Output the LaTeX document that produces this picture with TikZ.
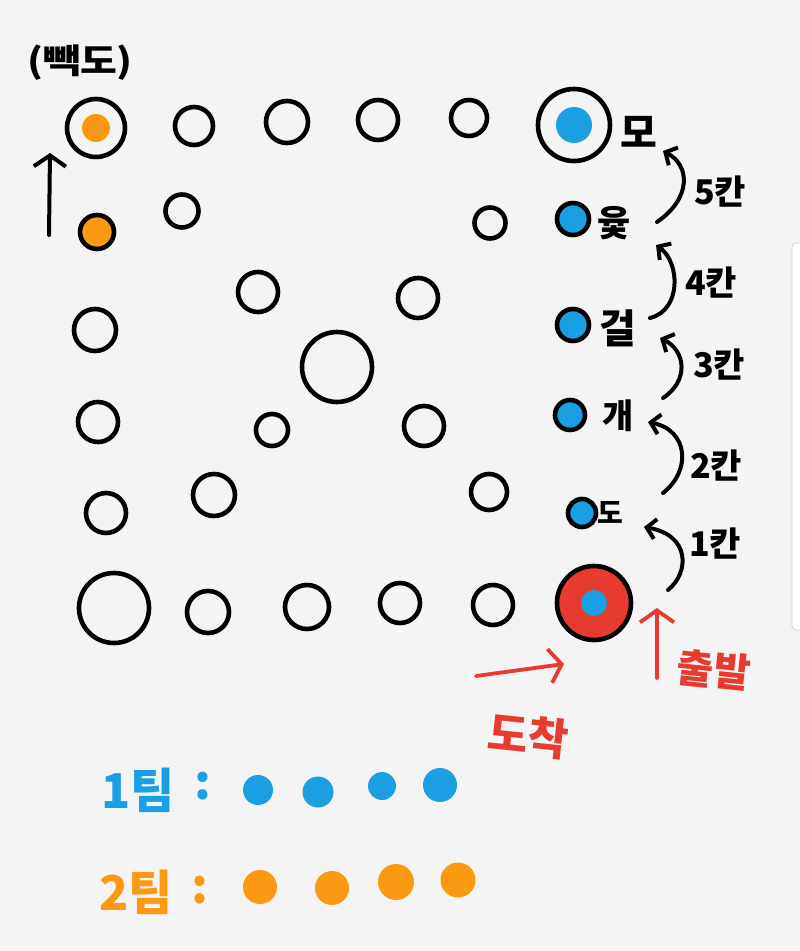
\documentclass[tikz,border=0pt]{standalone}
\usepackage{fontspec}
\setmainfont{Noto Sans CJK KR}
\usetikzlibrary{arrows.meta}
\definecolor{bg}{HTML}{F4F4F4}
\definecolor{tblue}{HTML}{1A9FE3}
\definecolor{torange}{HTML}{FB9A12}
\definecolor{tred}{HTML}{E63B2E}
\begin{document}
\begin{tikzpicture}[x=1pt,y=-1pt,
  spot/.style={circle, draw=black, line width=4.6pt, inner sep=0pt, minimum size=#1},
  bfill/.style={circle, fill=tblue, inner sep=0pt, minimum size=#1},
  ofill/.style={circle, fill=torange, inner sep=0pt, minimum size=#1},
  lbl/.style={font=\fontsize{#1}{#1}\selectfont\bfseries, inner sep=0pt, anchor=west},
  cnt/.style={font=\fontsize{34}{34}\selectfont\bfseries, inner sep=0pt},
  big/.style={font=\fontsize{40}{40}\selectfont\bfseries, inner sep=0pt},
  leg/.style={font=\fontsize{48}{48}\selectfont\bfseries, inner sep=0pt},
  move/.style={line width=4pt, line cap=round, line join=round,
    -{Straight Barb[length=9pt,width=20pt]}},
  redarrow/.style={draw=tred, line width=3.8pt, line cap=round, line join=round,
    -{Straight Barb[length=12pt,width=34pt]}}]
\fill[bg] (0,0) rectangle (800,951);
\useasboundingbox (0,0) rectangle (800,951);
% scrollbar edge
\draw[draw=black!18, fill=white, rounded corners=4pt, line width=0.8pt] (792,243) rectangle (806,630);

% corners
\node[spot=58] (tl) at (96,128) {};
\node[ofill=28] (tlp) at (96,128) {};
\node[spot=72] (tr) at (574,125) {};
\node[bfill=36] (trp) at (574,125) {};
\node[spot=70] (bl) at (114,608) {};
\node[circle, draw=black, fill=tred, line width=4.6pt, inner sep=0pt, minimum size=74] (br) at (594,603) {};
\node[bfill=26] (brp) at (594,603) {};
\node[spot=70] (ct) at (337,367) {};

% top row
\node[spot=38] (t1) at (194,126) {};
\node[spot=42] (t2) at (287,122) {};
\node[spot=40] (t3) at (378,120) {};
\node[spot=36] (t4) at (469,118) {};
% left column
\node[spot=34, fill=torange] (l1) at (97,232) {};
\node[spot=42] (l2) at (95,330) {};
\node[spot=40] (l3) at (98,422) {};
\node[spot=40] (l4) at (106,513) {};
% bottom row
\node[spot=42] (b1) at (208,612) {};
\node[spot=44] (b2) at (307,607) {};
\node[spot=40] (b3) at (400,603) {};
\node[spot=40] (b4) at (493,605) {};
% right column
\node[spot=32, fill=tblue] (r4) at (573,219) {};
\node[spot=32, fill=tblue] (r3) at (573,325) {};
\node[spot=30, fill=tblue] (r2) at (570,415) {};
\node[spot=28, fill=tblue] (r1) at (582,513) {};
% diagonals
\node[spot=33] (d1) at (182,211) {};
\node[spot=40] (d2) at (258,292) {};
\node[spot=40] (d3) at (424,426) {};
\node[spot=36] (d4) at (489,492) {};
\node[spot=31] (e1) at (490,223) {};
\node[spot=40] (e2) at (418,298) {};
\node[spot=32] (e3) at (272,430) {};
\node[spot=42] (e4) at (214,495) {};

% move names
\node[lbl=40] (mo) at (620,132) {모};
\node[lbl=36] (yut) at (597,223) {윷};
\node[lbl=40] (geol) at (599,328) {걸};
\node[lbl=34] (gae) at (602,416) {개};
\node[lbl=28] (do) at (597,513) {도};

% step arrows
\coordinate (s1a) at (668,590); \coordinate (s1b) at (644,527);
\coordinate (s2a) at (663,493); \coordinate (s2b) at (648,422);
\coordinate (s3a) at (663,398); \coordinate (s3b) at (660,338);
\coordinate (s4a) at (650,318); \coordinate (s4b) at (656,245);
\coordinate (s5a) at (657,222); \coordinate (s5b) at (663,151);
\draw[move] (s1a) .. controls (690,572) and (690,535) .. (s1b);
\draw[move] (s2a) .. controls (692,470) and (688,430) .. (s2b);
\draw[move] (s3a) .. controls (690,380) and (685,350) .. (s3b);
\draw[move] (s4a) .. controls (682,310) and (680,262) .. (s4b);
\draw[move] (s5a) .. controls (692,198) and (690,165) .. (s5b);
\node[cnt] (k1) at (715,544) {1칸};
\node[cnt] (k2) at (716,466) {2칸};
\node[cnt] (k3) at (719,365) {3칸};
\node[cnt] (k4) at (711,283) {4칸};
\node[cnt] (k5) at (720,192) {5칸};

% back-do
\node[font=\fontsize{40}{40}\selectfont\bfseries, inner sep=0pt, yscale=0.85] (bd) at (80,63) {(빽도)};
\coordinate (bda) at (49,235);
\coordinate (bdb) at (50,153);
\draw[move, -{Straight Barb[length=11pt,width=32pt]}] (bda) -- (bdb);

% start / finish
\coordinate (sta) at (657,678);
\coordinate (stb) at (657,608);
\draw[redarrow] (sta) -- (stb);
\node[big, text=tred, rotate=-6] (start) at (714,670) {출발};
\coordinate (fna) at (476,676);
\coordinate (fnb) at (564,664);
\draw[redarrow] (fna) -- (fnb);
\node[big, text=tred, rotate=-6, font=\fontsize{44}{44}\selectfont\bfseries] (finish) at (528,736) {도착};

% legend
\node[leg, text=tblue] (team1) at (138,790) {1팀};
\node[leg, text=tblue] (c1) at (203,786) {:};
\node[bfill=30] (p1) at (258,790) {};
\node[bfill=31] (p2) at (318,792) {};
\node[bfill=28] (p3) at (382,786) {};
\node[bfill=34] (p4) at (440,785) {};
\node[leg, text=torange] (team2) at (136,892) {2팀};
\node[leg, text=torange] (c2) at (200,890) {:};
\node[ofill=34] (q1) at (260,887) {};
\node[ofill=34] (q2) at (332,888) {};
\node[ofill=36] (q3) at (396,882) {};
\node[ofill=35] (q4) at (458,880) {};
\end{tikzpicture}
\end{document}
